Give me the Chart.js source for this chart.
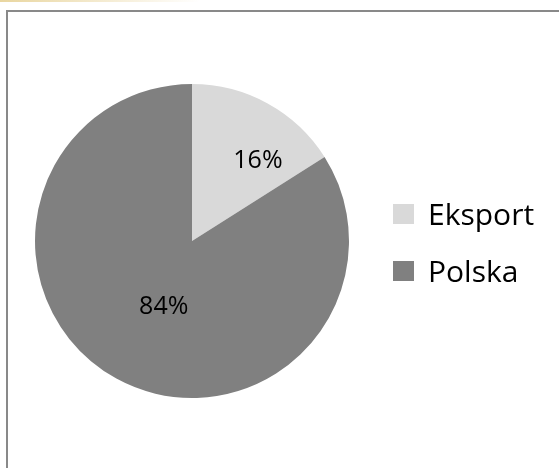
<!DOCTYPE html>
<html lang="pl">
  <head>
    <meta charset="UTF-8" />
    <script src="https://cdn.jsdelivr.net/npm/chart.js@4.4.1/dist/chart.umd.min.js"></script>
    <style>
      body { margin: 0; background: #fff; overflow: hidden; }
      #wrap { position: relative; width: 559px; height: 468px; }
      #topline {
        position: absolute; left: 0; top: 0; width: 200px; height: 2px;
        background: linear-gradient(to right, #e9d6a0, rgba(255,255,255,0));
      }
      #frame {
        position: absolute; left: 6px; top: 10px; width: 600px; height: 520px;
        border: 2px solid #898989; box-sizing: border-box;
      }
      canvas { position: absolute; left: 0; top: 0; }
    </style>
  </head>
  <body>
    <div id="wrap">
      <div id="topline"></div>
      <div id="frame"></div>
      <canvas id="myChart" width="559" height="468"></canvas>
    </div>

    <script>
      const categories = ["Eksport", "Polska"];
      const values = [16, 84];
      const colors = ["#d9d9d9", "#808080"];

      // draws the percent labels inside the slices
      const sliceLabels = {
        id: "sliceLabels",
        afterDatasetsDraw(chart, args, opts) {
          const ctx = chart.ctx;
          const meta = chart.getDatasetMeta(0);
          const total = values.reduce((a, b) => a + b, 0);
          ctx.save();
          ctx.font = opts.font;
          ctx.fillStyle = "#000";
          ctx.textAlign = "center";
          ctx.textBaseline = "middle";
          meta.data.forEach((arc, i) => {
            const off = opts.anchors[i];
            const x = arc.x + off[0] * arc.outerRadius;
            const y = arc.y + off[1] * arc.outerRadius;
            ctx.fillText(Math.round((values[i] / total) * 100) + "%", x, y);
          });
          ctx.restore();
        },
      };

      // Excel-style legend on the right
      const sideLegend = {
        id: "sideLegend",
        afterDraw(chart, args, opts) {
          const ctx = chart.ctx;
          ctx.save();
          ctx.font = opts.font;
          ctx.textBaseline = "alphabetic";
          categories.forEach((name, i) => {
            const base = opts.firstBaseline + i * opts.spacing;
            ctx.fillStyle = colors[i];
            ctx.fillRect(opts.x, base - 21, 21, 20);
            ctx.fillStyle = "#000";
            ctx.fillText(name, opts.x + 35, base);
          });
          ctx.restore();
        },
      };

      const ctx = document.getElementById("myChart").getContext("2d");
      const myChart = new Chart(ctx, {
        type: "pie",
        data: {
          labels: categories,
          datasets: [
            {
              data: values,
              backgroundColor: colors,
              borderWidth: 0,
            },
          ],
        },
        options: {
          responsive: false,
          animation: false,
          layout: {
            padding: { left: 35, top: 84, right: 210, bottom: 70 },
          },
          plugins: {
            legend: { display: false },
            tooltip: { enabled: false },
            sliceLabels: {
              font: "25px 'Open Sans'",
              anchors: [
                [0.42, -0.51],
                [-0.18, 0.42],
              ],
            },
            sideLegend: {
              font: "30px 'Open Sans'",
              x: 393,
              firstBaseline: 225,
              spacing: 57,
            },
          },
        },
        plugins: [sliceLabels, sideLegend],
      });
    </script>
  </body>
</html>
